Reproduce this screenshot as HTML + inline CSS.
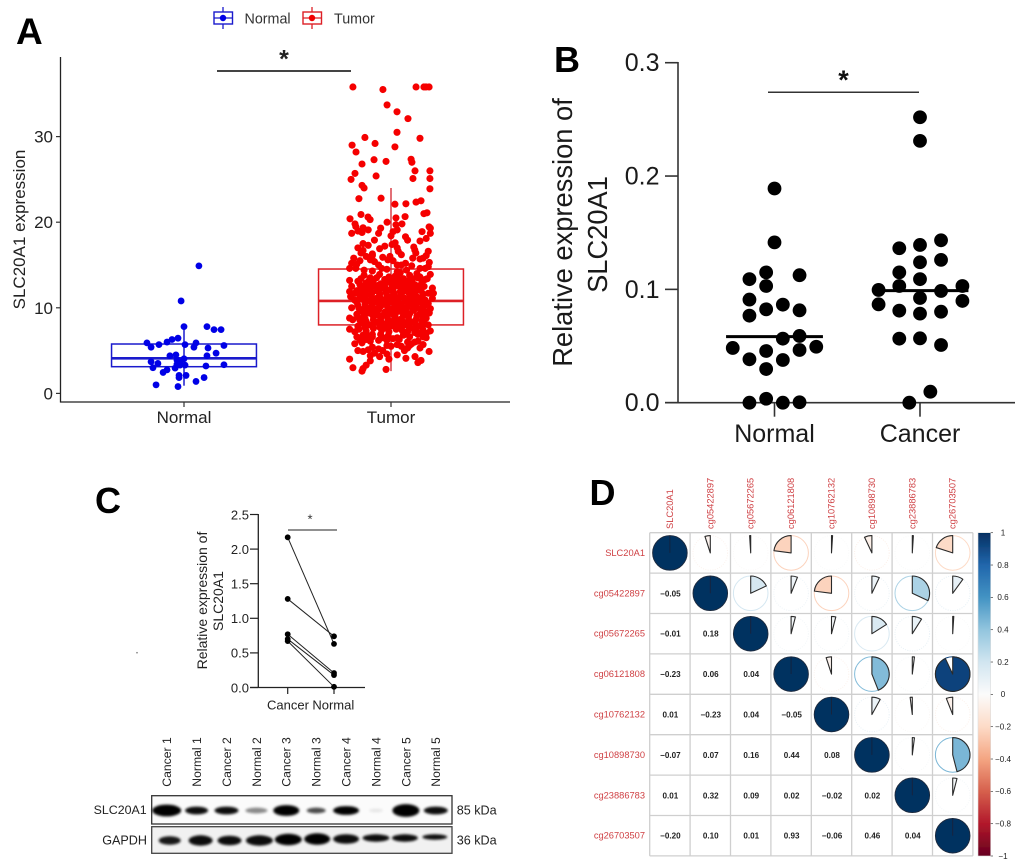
<!DOCTYPE html>
<html lang="en">
<head>
<meta charset="utf-8">
<title>SLC20A1 expression figure</title>
<style>
html,body{margin:0;padding:0;background:#fff;}
body{width:1020px;height:867px;overflow:hidden;}
svg{display:block;font-family:"Liberation Sans",Arial,sans-serif;}
</style>
</head>
<body>
<svg id="fig" xmlns="http://www.w3.org/2000/svg" width="1020" height="867" viewBox="0 0 1020 867">
  <defs>
    <filter id="soft" x="-30%" y="-80%" width="160%" height="260%"><feGaussianBlur stdDeviation="1.3"/></filter>
    <filter id="lowres" x="-2%" y="-2%" width="104%" height="104%"><feGaussianBlur stdDeviation="0.35"/></filter>
    <linearGradient id="rdbu" x1="0" y1="0" x2="0" y2="1">
      <stop offset="0" stop-color="#053061"/><stop offset="0.1" stop-color="#2166ac"/>
      <stop offset="0.2" stop-color="#4393c3"/><stop offset="0.3" stop-color="#92c5de"/>
      <stop offset="0.4" stop-color="#d1e5f0"/><stop offset="0.5" stop-color="#fbfbfb"/>
      <stop offset="0.6" stop-color="#fddbc7"/><stop offset="0.7" stop-color="#f4a582"/>
      <stop offset="0.8" stop-color="#d6604d"/><stop offset="0.9" stop-color="#b2182b"/>
      <stop offset="1" stop-color="#67001f"/>
    </linearGradient>
  </defs>

  <!-- Panel A -->
  <g id="panelA">
    <text x="16" y="44" font-size="37" font-weight="bold" fill="#000">A</text>
    <g>
      <g>
        <line x1="223" y1="7" x2="223" y2="29" stroke="#1a1acc" stroke-width="1.3"/>
        <rect x="214" y="12" width="18.5" height="12" fill="#fff" stroke="#1a1acc" stroke-width="1.4"/>
        <line x1="214" y1="18" x2="232.5" y2="18" stroke="#1a1acc" stroke-width="1.3"/>
        <circle cx="223" cy="18" r="3.2" fill="#0000e6"/>
        <text x="244.5" y="23.5" font-size="14.3" fill="#333">Normal</text>
      </g>
      <g>
        <line x1="312" y1="7" x2="312" y2="29" stroke="#dd2026" stroke-width="1.3"/>
        <rect x="303" y="12" width="18.5" height="12" fill="#fff" stroke="#dd2026" stroke-width="1.4"/>
        <line x1="303" y1="18" x2="321.5" y2="18" stroke="#dd2026" stroke-width="1.3"/>
        <circle cx="312" cy="18" r="3.2" fill="#f00000"/>
        <text x="334" y="23.5" font-size="14.3" fill="#333">Tumor</text>
      </g>
    </g>
    <line x1="217" y1="71" x2="351" y2="71" stroke="#444" stroke-width="2"/>
    <text x="284" y="67.5" font-size="25" font-weight="bold" text-anchor="middle" fill="#222">*</text>
    <g id="boxesA"></g>
    <g id="pointsA"></g>
    <line x1="60.5" y1="57" x2="60.5" y2="402.5" stroke="#222" stroke-width="1.3"/>
    <line x1="60" y1="402" x2="510" y2="402" stroke="#222" stroke-width="1.3"/>
    <g id="axisA"></g>
    <text transform="translate(25,229.5) rotate(-90)" font-size="17" text-anchor="middle" fill="#222">SLC20A1 expression</text>
  </g>

  <!-- Panel B -->
  <g id="panelB">
    <text x="554" y="72" font-size="36" font-weight="bold" fill="#000">B</text>
    <line x1="768" y1="92.3" x2="919" y2="92.3" stroke="#333" stroke-width="1.5"/>
    <text x="843.5" y="89" font-size="27" font-weight="bold" text-anchor="middle" fill="#111">*</text>
    <line x1="678" y1="62" x2="678" y2="403.5" stroke="#333" stroke-width="1.6"/>
    <line x1="665" y1="402.7" x2="1015" y2="402.7" stroke="#333" stroke-width="1.6"/>
    <g id="axisB"></g>
    <g id="pointsB"></g>
    <text transform="translate(572,232.5) rotate(-90)" font-size="27.3" text-anchor="middle" fill="#1a1a1a">Relative expression of</text>
    <text transform="translate(607,234.5) rotate(-90)" font-size="27.3" text-anchor="middle" fill="#1a1a1a">SLC20A1</text>
  </g>

  <!-- Panel C -->
  <g id="panelC">
    <text x="95" y="513" font-size="36" font-weight="bold" fill="#000">C</text>
    <line x1="288" y1="530" x2="337" y2="530" stroke="#222" stroke-width="1"/>
    <text x="310" y="523.5" font-size="13" text-anchor="middle" fill="#333">*</text>
    <line x1="258.3" y1="514" x2="258.3" y2="688" stroke="#222" stroke-width="1.3"/>
    <line x1="250" y1="687.5" x2="365" y2="687.5" stroke="#222" stroke-width="1.3"/>
    <g id="axisC"></g>
    <g id="pointsC"></g>
    <text transform="translate(207,600.5) rotate(-90)" font-size="14" text-anchor="middle" fill="#222">Relative expression of</text>
    <text transform="translate(223,601) rotate(-90)" font-size="14" text-anchor="middle" fill="#222">SLC20A1</text>
    <circle cx="137" cy="652.7" r="0.8" fill="#777"/>
    <g id="blot">
      <rect x="151.7" y="795.7" width="300.3" height="28.3" fill="#fbfbfb" stroke="#333" stroke-width="1.3"/>
      <rect x="151.7" y="826.7" width="300.3" height="26.6" fill="#f1f1f1" stroke="#444" stroke-width="1.3"/>
      <g id="lanes"></g>
      <text x="146.7" y="814" font-size="12.4" text-anchor="end" fill="#222">SLC20A1</text>
      <text x="147" y="844.5" font-size="12.6" text-anchor="end" fill="#222">GAPDH</text>
      <text x="456.7" y="814.5" font-size="12.6" fill="#222">85 kDa</text>
      <text x="456.7" y="844.5" font-size="12.6" fill="#222">36 kDa</text>
    </g>
  </g>

  <!-- Panel D -->
  <g id="panelD">
    <text x="589.5" y="505" font-size="36" font-weight="bold" fill="#000">D</text>
    <g filter="url(#lowres)">
      <g id="corrGrid"></g>
      <g id="corrLabels"></g>
      <rect x="978" y="532.7" width="12.7" height="323.3" fill="url(#rdbu)" stroke="#ddd" stroke-width="0.6"/>
      <g id="colorTicks"></g>
    </g>
  </g>

<script>
/* ---------- Panel A data ---------- */
const groupsA = ['Normal', 'Tumor'];
const yTicksA = [0, 10, 20, 30];
const boxLowA = [0.9, 2.6];
const boxQ1A = [3.12, 8.0];
const boxMedianA = [4.1, 10.8];
const boxQ3A = [5.77, 14.53];
const boxHighA = [7.8, 24];
const normalValues = [14.9,10.8,7.8,7.8,7.45,7.45,6.45,6.3,6.0,5.9,5.4,5.7,5.7,5.9,5.4,5.3,5.6,4.7,4.4,4.4,4.5,4.05,3.9,3.7,3.7,3.5,3.4,3.3,3.3,3.0,2.95,3.2,3.35,2.75,2.45,2.1,2.1,1.85,1.85,1.4,1.0,0.8];
const normalJitter = [.072,-.014,0,.111,.145,.179,-.029,-.058,-.082,-.179,-.159,-.121,.005,.058,.048,.116,.193,.155,.111,-.068,-.039,0,-.034,-.019,-.159,-.126,-.034,.005,-.019,-.15,-.043,.106,.193,-.082,-.101,-.024,.01,-.024,.097,.058,-.135,-.029];
const tumorValues = [
 35.8,35.5,35.8,35.8,35.8,35.8,33.7,32.9,32.1,30.5,
 29.9,29.8,29.2,29.0,28.8,28.2,26.8,27.3,27.1,27.35,
 27.0,25.7,25.0,25.4,26.0,26.0,25.1,25.1,24.3,24.0,
 23.9,22.75,22.8,22.1,22.15,22.35,22.5,20.4,20.9,20.6,
 20.3,19.8,20.0,20.5,20.65,19.8,19.7,21.0,21.1,19.45,
 18.7,18.97,18.8,19.1,19.5,19.35,19.3,18.7,18.9,19.1,
 18.3,17.9,17.1,16.75,18.9,19.3,18.7,18.1,17.5,17.3,
 17.9,17.2,17.4,17.0,16.6,16.2,16.4,16.0,16.1,15.6,
 15.8,15.2,14.6,14.6,15.4,15.0,14.6,16.0,15.6,15.8,
 15.2,15.0,16.6,16.1,15.8,15.3,14.6,14.0,14.6,14.8,
 13.9,13.4,13.4,13.6,13.2,12.5,11.9,11.3,11.7,10.9,
 12.3,11.7,11.1,11.7,10.5,9.9,9.4,8.8,8.0,7.3,
 10,8.8,8.6,7.5,7.2,6.6,6.25,5.8,5.0,4.9,
 5.1,5.4,5.2,4.3,5.6,5.7,4.5,5.0,5.6,5.3,
 5.7,6.0,6.0,6.2,6.2,6.4,6.6,7.0,7.1,7.2,
 4,3,2.6,2.9,3.3,3.8,2.8,4,4.1,4.3,
 3.6,3.85,4.9,4.4,4.6,5.0,5.5,5.8,6.3,6.7,
 13.8,13.5,13.9,13.6,13.7,14.1,13.4,13.8,13.3,13.6,
 13.1,12.9,13.2,12.8,13.0,13.2,12.9,13.1,12.7,13.0,
 12.4,12.2,12.5,12.3,12.1,12.6,12.2,12.4,12.1,12.5,
 11.7,11.5,11.8,11.6,11.4,11.7,11.5,11.8,11.4,11.6,
 11.0,10.8,11.1,10.9,10.7,11.0,10.8,11.1,10.7,10.9,
 10.3,10.1,10.4,10.2,10.0,10.3,10.1,10.4,10.0,10.2,
 9.6,9.4,9.7,9.5,9.3,9.6,9.4,9.7,9.3,9.5,
 8.9,8.7,9.0,8.8,8.6,8.9,8.7,9.0,8.6,8.8,
 8.2,8.0,8.3,8.1,7.9,8.2,8.0,8.3,7.9,8.1,
 7.5,7.3,7.6,7.4,7.2,7.5,7.3,7.6,7.2,7.4,
 6.8,6.6,6.9,6.7,6.5,6.8,6.6,6.9,6.5,6.7,
 12.8,11.3,10.6,9.9,9.1,12.0,10.4,9.8,11.2,8.4,
 13.4,13.2,13.5,13.3,13.1,13.4,13.2,13.0,13.5,13.3,
 12.7,12.5,12.8,12.6,12.4,12.7,12.5,12.8,12.4,12.6,
 12.0,11.9,12.1,11.95,11.8,12.1,11.9,12.05,11.85,12.0,
 11.35,11.2,11.4,11.25,11.1,11.35,11.2,11.4,11.1,11.3,
 10.65,10.5,10.7,10.55,10.4,10.65,10.5,10.7,10.45,10.6,
 9.95,9.8,10.0,9.85,9.7,9.95,9.8,10.0,9.75,9.9,
 9.25,9.1,9.3,9.15,9.0,9.25,9.1,9.3,9.05,9.2,
 8.55,8.4,8.6,8.45,8.3,8.55,8.4,8.6,8.35,8.5,
 7.85,7.7,7.9,7.75,7.6,7.85,7.7,7.9,7.65,7.8,
 16.9,16.3,15.5,15.1,14.4,14.3,15.0,14.5,14.2,14.9,
 18.4,17.6,17.0,16.7,15.9,15.5,14.4,15.7,16.4,17.8,
 5.9,6.1,6.5,6.9,6.3,5.5,4.7,5.3,6.1,7.0
];
const tumorJitter = [
 -.184,-.039,.121,.159,.169,.184,-.019,.029,.082,.029,
 -.126,.14,-.077,-.188,.019,-.169,-.14,-.082,-.024,.097,
 .101,-.174,-.193,-.072,.116,.188,.188,.106,-.14,-.13,
 .188,-.155,-.048,.019,.072,.121,.145,-.198,-.145,-.111,
 -.101,-.174,-.019,.024,.068,.053,.024,.159,.174,.184,
 -.19,-.16,-.14,-.11,-.17,-.135,-.05,-.06,.01,.03,
 .07,.08,.11,.115,.15,.19,.19,.17,-.135,-.11,
 -.08,-.03,.005,.03,.035,.05,-.145,-.12,-.09,-.10,
 -.18,-.19,-.2,-.17,-.08,-.06,-.045,-.005,-.015,.105,
 .07,.05,.18,.17,.155,.185,.14,.125,.165,.18,
 .19,.175,.105,.13,-.2,-.19,-.2,-.195,-.175,-.175,
 .2,.205,.2,.18,.18,.19,.185,.17,.18,.19,
 -.19,-.2,-.185,-.2,-.175,-.165,-.15,-.175,-.16,-.135,
 -.11,-.09,-.06,-.055,-.02,.03,.03,.065,.09,.14,
 .155,.115,.08,-.02,-.06,.01,.155,.14,.115,.08,
 -.2,-.184,-.14,-.135,-.12,-.10,-.024,-.01,.072,.116,
 .13,.145,.184,-.10,-.02,-.04,.05,.10,-.12,-.10,
 -.13,-.1,-.055,-.01,.02,.045,.06,.09,-.03,.14,
 -.16,-.12,-.085,-.05,-.015,.02,.05,.08,.115,.15,
 -.145,-.11,-.075,-.04,-.005,.03,.06,.09,.125,.16,
 -.155,-.12,-.09,-.055,-.02,.015,.05,.085,.12,.155,
 -.14,-.105,-.07,-.035,0,.035,.07,.1,.135,.165,
 -.16,-.125,-.09,-.05,-.015,.02,.055,.09,.125,.16,
 -.15,-.11,-.075,-.03,.005,.04,.075,.11,.14,.17,
 -.16,-.125,-.085,-.05,-.015,.02,.05,.085,.12,.155,
 -.145,-.105,-.07,-.035,0,.035,.07,.1,.135,.165,
 -.155,-.12,-.085,-.045,-.01,.025,.055,.09,.125,.155,
 -.135,-.09,-.05,-.015,.03,.06,.09,.13,.17,-.11,
 -.03,0,-.02,.01,-.04,.07,.05,-.06,.11,0,
 -.145,-.105,-.07,-.03,0,.035,.065,.1,.13,.165,
 -.15,-.13,-.095,-.065,-.03,.005,.04,.07,.105,.14,
 -.165,-.135,-.1,-.065,-.025,.01,.045,.08,.11,.145,
 -.15,-.13,-.095,-.055,-.02,.02,.06,.09,.125,.15,
 -.165,-.125,-.09,-.06,-.03,.015,.04,.08,.115,.15,
 -.155,-.13,-.1,-.075,-.015,.025,.06,.075,.105,.145,
 -.165,-.13,-.095,-.06,-.02,.02,.06,.09,.125,.155,
 -.15,-.12,-.085,-.05,-.015,.02,.055,.085,.115,.15,
 -.16,-.125,-.09,-.055,-.02,.015,.05,.085,.115,.15,
 -.055,-.09,-.15,-.165,-.13,-.09,.03,-.02,.03,.1,
 0,.02,-.16,-.135,-.04,.01,.075,.14,.12,.14,
 -.14,-.1,-.04,-.09,.04,0,-.08,.08,.13,.17
];

/* ---------- Panel B data ---------- */
const groupsB = ['Normal', 'Cancer'];
const yTicksB = [0.0, 0.1, 0.2, 0.3];
const normalB = [.189,.1415,.115,.109,.1125,.103,.091,.0824,.0865,.0815,.0768,.0565,.0589,.0483,.0494,.0465,.0456,.0383,.0377,.0297,0,.0035,0,.0004];
const normalSlots = [0,0,-.5,-1.5,1.5,-.5,-1.5,-.5,.5,1.5,-1.5,.5,1.5,-2.5,2.5,1.5,-.5,-1.5,.5,-.5,-1.5,-.5,.5,1.5];
const cancerB = [.2519,.231,.1433,.1392,.1363,.1239,.126,.115,.109,.103,.103,.0995,.0986,.0924,.0898,.0868,.0812,.0786,.0803,.0565,.0568,.0509,.0097,0];
const cancerSlots = [0,0,1.26,0,-1.24,0,1.26,-1.24,0,-1.24,2.54,-2.48,1.26,0,2.54,-2.48,-1.24,0,1.26,-1.24,0,1.26,.62,-.64];
const mediansB = [.0583, .0989];

/* ---------- Panel C data ---------- */
const groupsC = ['Cancer', 'Normal'];
const yTicksC = [0.0, 0.5, 1.0, 1.5, 2.0, 2.5];
const pairedCancer = [2.17, 1.28, 0.77, 0.70, 0.67];
const pairedNormal = [0.63, 0.74, 0.21, 0.18, 0.01];

/* ---------- Blot data ---------- */
const laneNames = ['Cancer 1','Normal 1','Cancer 2','Normal 2','Cancer 3','Normal 3','Cancer 4','Normal 4','Cancer 5','Normal 5'];
const targetStrength = [1,.95,.95,.45,1,.7,1,.08,1,.95];
const targetBandLength = [27,21,22,20,24,17,24,12,25,22];
const targetBandThickness = [11,7,7,5,10,5,8,3,12,7];
const loadingStrength = [.9,.95,.95,.95,1,1,.95,.95,.95,.95];
const loadingBandLength = [20,22,22,25,25,24,24,25,24,23];
const loadingBandThickness = [7,9,8,9,10,10,8,6,6,4];
const loadingLaneShift = [3,4,3,3,2,1,0,0,-1,-1];
const loadingRowShift = [0,0,0,0,-1,-1.5,-1.5,-2.5,-2.5,-3.5];

/* ---------- Panel D data ---------- */
const corrNames = ['SLC20A1','cg05422897','cg05672265','cg06121808','cg10762132','cg10898730','cg23886783','cg26703507'];
const corrRow1 = [1];
const corrRow2 = [-.05,1];
const corrRow3 = [-.01,.18,1];
const corrRow4 = [-.23,.06,.04,1];
const corrRow5 = [.01,-.23,.04,-.05,1];
const corrRow6 = [-.07,.07,.16,.44,.08,1];
const corrRow7 = [.01,.32,.09,.02,-.02,.02,1];
const corrRow8 = [-.20,.10,.01,.93,-.06,.46,.04,1];
const colorTickValues = [1,.8,.6,.4,.2,0,-.2,-.4,-.6,-.8,-1];

/* ---------- helpers ---------- */
const NS = 'http://www.w3.org/2000/svg';
function make(tag, parentId, props, text) {
  const el = document.createElementNS(NS, tag);
  for (const k in props) el.setAttribute(k, props[k]);
  if (text !== undefined) el.textContent = text;
  document.getElementById(parentId).appendChild(el);
  return el;
}

/* ---------- Panel A ---------- */
const xA = (cat, jit) => 184 + (cat + jit) * 207;
const yA = v => 393.4 - v * 8.56;
const boxColors = ['#1a1acc', '#dd2026'];
const whiskerColors = ['#1a1acc', '#d8404a'];
groupsA.forEach((name, c) => {
  const w = make('line', 'boxesA', {x1:xA(c,0), x2:xA(c,0), y1:yA(boxLowA[c]), y2:yA(boxHighA[c]), stroke:whiskerColors[c], 'stroke-width':1.5});
  
  
  const b = make('rect', 'boxesA', {x:xA(c,-.35), y:yA(boxQ3A[c]), width:xA(c,.35)-xA(c,-.35), height:yA(boxQ1A[c])-yA(boxQ3A[c]), fill:'none', stroke:boxColors[c], 'stroke-width':1.5});
  
  
  const m = make('line', 'boxesA', {x1:xA(c,-.35), x2:xA(c,.35), y1:yA(boxMedianA[c]), y2:yA(boxMedianA[c]), stroke:boxColors[c], 'stroke-width':2.6});
  
  
  const t = make('line', 'axisA', {x1:xA(c,0), x2:xA(c,0), y1:402, y2:407, stroke:'#333', 'stroke-width':1.2});
  
  
  const l = make('text', 'axisA', {x:xA(c,0), y:423, 'font-size':17, 'text-anchor':'middle', fill:'#222'}, name);
  
  
});
normalValues.forEach((v, i) => {
  const p = make('circle', 'pointsA', {cx:xA(0, normalJitter[i]), cy:yA(v), r:3.4, fill:'#0000e6'});
  
  
});
tumorValues.forEach((v, i) => {
  const p = make('circle', 'pointsA', {cx:xA(1, tumorJitter[i]), cy:yA(v), r:3.55, fill:'#f50000'});
  
  
});
yTicksA.forEach(v => {
  const t = make('line', 'axisA', {x1:56, x2:60, y1:yA(v), y2:yA(v), stroke:'#333', 'stroke-width':1.2});
  
  
  const l = make('text', 'axisA', {x:53, y:yA(v)+6, 'font-size':17, 'text-anchor':'end', fill:'#222'}, String(v));
  
  
});

/* ---------- Panel B ---------- */
const xB = (cat, slot) => 774.5 + cat * 145.5 + slot * 16.7;
const yB = v => 402.7 - v * 1133.3;
yTicksB.forEach(v => {
  const t = make('line', 'axisB', {x1:665, x2:678, y1:yB(v), y2:yB(v), stroke:'#333', 'stroke-width':1.6});
  
  
  const l = make('text', 'axisB', {x:659.5, y:yB(v)+8.5, 'font-size':25, 'text-anchor':'end', fill:'#1a1a1a'}, v.toFixed(1));
  
  
});
groupsB.forEach((name, c) => {
  const t = make('line', 'axisB', {x1:xB(c,0), x2:xB(c,0), y1:402.7, y2:416.7, stroke:'#333', 'stroke-width':1.6});
  
  
  const l = make('text', 'axisB', {x:xB(c,0), y:442, 'font-size':25, 'text-anchor':'middle', fill:'#1a1a1a'}, name);
  
  
});
normalB.forEach((v, i) => {
  const p = make('circle', 'pointsB', {cx:xB(0, normalSlots[i]), cy:yB(v), r:6.9, fill:'#000'});
  
  
});
cancerB.forEach((v, i) => {
  const p = make('circle', 'pointsB', {cx:xB(1, cancerSlots[i]), cy:yB(v), r:6.9, fill:'#000'});
  
  
});
const medNormal = make('line', 'pointsB', {x1:xB(0,-2.9), x2:xB(0,2.9), y1:yB(mediansB[0]), y2:yB(mediansB[0]), stroke:'#000', 'stroke-width':3});


const medCancer = make('line', 'pointsB', {x1:xB(1,-2.48), x2:xB(1,2.9), y1:yB(mediansB[1]), y2:yB(mediansB[1]), stroke:'#000', 'stroke-width':3});



/* ---------- Panel C ---------- */
const xC = i => 287.7 + i * 46.3;
const yC = v => 687.5 - v * 69.2;
yTicksC.forEach(v => {
  const t = make('line', 'axisC', {x1:250, x2:258, y1:yC(v), y2:yC(v), stroke:'#222', 'stroke-width':1.2});
  
  
  const l = make('text', 'axisC', {x:249, y:yC(v)+4.8, 'font-size':13, 'text-anchor':'end', fill:'#222'}, v.toFixed(1));
  
  
});
groupsC.forEach((name, c) => {
  const t = make('line', 'axisC', {x1:xC(c), x2:xC(c), y1:687.5, y2:694, stroke:'#222', 'stroke-width':1.2});
  
  
  const l = make('text', 'axisC', {x:c === 0 ? xC(0)+0.3 : xC(1)-0.7, y:709.5, 'font-size':13, 'text-anchor':'middle', fill:'#222'}, name);
  
  
});
pairedCancer.forEach((v, i) => {
  const s = make('line', 'pointsC', {x1:xC(0), y1:yC(v), x2:xC(1), y2:yC(pairedNormal[i]), stroke:'#222', 'stroke-width':1});
  
  
  const a = make('circle', 'pointsC', {cx:xC(0), cy:yC(v), r:2.9, fill:'#000'});
  
  
  const b = make('circle', 'pointsC', {cx:xC(1), cy:yC(pairedNormal[i]), r:2.9, fill:'#000'});
  
  
});

/* ---------- Blot ---------- */
const laneX = i => 166.7 + i * 29.9;
laneNames.forEach((name, i) => {
  const l = make('text', 'lanes', {transform:'translate(' + (laneX(i)+4.4) + ',786.7) rotate(-90)', 'font-size':12.2, fill:'#222'}, name);
  
  
  const a = make('ellipse', 'lanes', {cx:laneX(i), cy:810.5, rx:targetBandLength[i]/2+1, ry:targetBandThickness[i]/2+0.4, fill:'#000', opacity:targetStrength[i], filter:'url(#soft)'});
  
  
  const b = make('ellipse', 'lanes', {cx:laneX(i)+loadingLaneShift[i], cy:840.5+loadingRowShift[i], rx:loadingBandLength[i]/2+1, ry:loadingBandThickness[i]/2+0.7, fill:'#000', opacity:loadingStrength[i], filter:'url(#soft)'});
  
  
});

/* ---------- Panel D ---------- */
const corrRows = [corrRow1, corrRow2, corrRow3, corrRow4, corrRow5, corrRow6, corrRow7, corrRow8];
const gridLeft = 649.7, gridTop = 532.7, cell = 40.4, pieR = 17.3;
const cellX = i => gridLeft + cell * (i + .5);
const cellY = i => gridTop + cell * (i + .5);
const rampStops = ['#67001f','#b2182b','#d6604d','#f4a582','#fddbc7','#fbfbfb','#d1e5f0','#92c5de','#4393c3','#2166ac','#053061'];
function rampColor(v) {
  const t = (v + 1) * 5, k = Math.min(9, Math.floor(t)), f = t - k;
  const hex = s => [1,3,5].map(o => parseInt(s.substr(o,2),16));
  const a = hex(rampStops[k]), b = hex(rampStops[k+1]);
  return 'rgb(' + a.map((x,n) => Math.round(x + (b[n]-x)*f)).join(',') + ')';
}
corrNames.forEach((name, i) => {
  const h = make('line', 'corrGrid', {x1:gridLeft, x2:gridLeft+8*cell, y1:gridTop+cell*i, y2:gridTop+cell*i, stroke:'#cfcfcf', 'stroke-width':1.3});
  
  
  const v = make('line', 'corrGrid', {y1:gridTop, y2:gridTop+8*cell, x1:gridLeft+cell*i, x2:gridLeft+cell*i, stroke:'#cfcfcf', 'stroke-width':1.3});
  
  
  const rowLabel = make('text', 'corrLabels', {x:645, y:cellY(i)+3, 'font-size':9.3, 'text-anchor':'end', fill:'#cf4144'}, name);
  
  
  const colLabel = make('text', 'corrLabels', {transform:'translate(' + (cellX(i)+3) + ',529) rotate(-90)', 'font-size':9.3, fill:'#cf4144'}, name);
  
  
});
const gb = make('line', 'corrGrid', {x1:gridLeft, x2:gridLeft+8*cell, y1:gridTop+8*cell, y2:gridTop+8*cell, stroke:'#cfcfcf', 'stroke-width':1.3});


const gr = make('line', 'corrGrid', {y1:gridTop, y2:gridTop+8*cell, x1:gridLeft+8*cell, x2:gridLeft+8*cell, stroke:'#cfcfcf', 'stroke-width':1.3});



function drawPie(col, row, r) {
  const cx = cellX(col), cy = cellY(row);
  if (r >= 1) {
    const d = make('circle', 'corrGrid', {cx:cx, cy:cy, r:pieR, fill:'#053061', stroke:'#1c2a3c', 'stroke-width':0.9});
    
    
    const n = make('line', 'corrGrid', {x1:cx, x2:cx, y1:cy-pieR, y2:cy, stroke:'#16243a', 'stroke-width':0.9});
    
    
    return;
  }
  const ring = make('circle', 'corrGrid', {cx:cx, cy:cy, r:pieR, fill:'#fff', stroke:rampColor(r), 'stroke-width':1, 'stroke-dasharray':Math.abs(r) > .15 ? 'none' : '1 1.4'});
  
  
  const ang = r * 2 * Math.PI;
  const ex = cx + pieR * Math.sin(ang), ey = cy - pieR * Math.cos(ang);
  const large = Math.abs(r) > .5 ? 1 : 0, sweep = r > 0 ? 1 : 0;
  const path = 'M' + cx + ' ' + cy + 'L' + cx + ' ' + (cy - pieR) + 'A' + pieR + ' ' + pieR + ' 0 ' + large + ' ' + sweep + ' ' + ex + ' ' + ey + 'Z';
  const w = make('path', 'corrGrid', {d:path, fill:rampColor(r), stroke:'#2b2b2b', 'stroke-width':1.1, 'stroke-linejoin':'round'});
  
  
}
corrRows.forEach((cells, row) => {
  cells.forEach((r, col) => {
    drawPie(row, col, r);
    if (col !== row) {
      const label = (r < 0 ? '\u2212' : '') + Math.abs(r).toFixed(2);
      const t = make('text', 'corrGrid', {x:cellX(col)+0.5, y:cellY(row)+3, 'font-size':8.1, 'font-weight':'bold', 'text-anchor':'middle', fill:'#222'}, label);
      
      
    }
  });
});
colorTickValues.forEach(v => {
  const y = 532.7 + (1 - v) / 2 * 323.3;
  const t = make('line', 'colorTicks', {x1:990.7, x2:993, y1:y, y2:y, stroke:'#444', 'stroke-width':0.7});
  
  
  const txt = (v < 0 ? '\u2212' : '') + (v === 0 || Math.abs(v) === 1 ? String(Math.abs(v)) : Math.abs(v).toFixed(1));
  const l = make('text', 'colorTicks', {x:1003, y:y+2.8, 'font-size':8.1, 'text-anchor':'middle', fill:'#222'}, txt);
  
  
});
</script>
</svg>
</body>
</html>
